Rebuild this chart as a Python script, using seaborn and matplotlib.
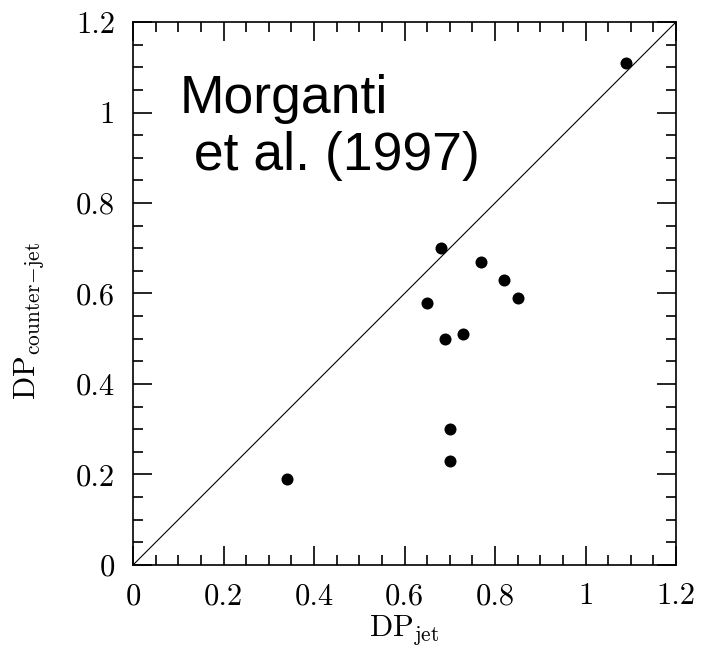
import numpy as np
import pandas as pd
import matplotlib
matplotlib.use("Agg")
import matplotlib.pyplot as plt
from matplotlib.ticker import MultipleLocator, FuncFormatter
import seaborn as sns

# DP значения (по картинке)
dp_jet = [1.09, 0.68, 0.77, 0.82, 0.85, 0.65, 0.73, 0.69, 0.70, 0.70, 0.34]
dp_counter = [1.11, 0.70, 0.67, 0.63, 0.59, 0.58, 0.51, 0.50, 0.30, 0.23, 0.19]

df = pd.DataFrame({'DP_jet': dp_jet, 'DP_counter': dp_counter})

sns.set_style("ticks")
plt.rcParams['font.family'] = ['cmr10', 'DejaVu Serif']
plt.rcParams['mathtext.fontset'] = 'cm'
plt.rcParams['axes.formatter.use_mathtext'] = True
plt.rcParams['text.color'] = 'black'
plt.rcParams['axes.labelcolor'] = 'black'

fig = plt.figure(figsize=(7.02, 6.53), dpi=100)
ax = fig.add_axes([0.1895, 0.1348, 0.7735, 0.8315])

# линия равенства
ax.plot([0, 1.2], [0, 1.2], color='black', lw=0.8)

sns.scatterplot(data=df, x='DP_jet', y='DP_counter', ax=ax, color='black',
                s=75, marker='o', edgecolor='black', linewidth=0)

ax.set_xlim(0, 1.2)
ax.set_ylim(0, 1.2)
for axis in [ax.xaxis, ax.yaxis]:
    axis.set_major_locator(MultipleLocator(0.2))
    axis.set_minor_locator(MultipleLocator(0.05))
    axis.set_major_formatter(FuncFormatter(lambda v, p: '%g' % round(v, 2)))

ax.tick_params(which='both', direction='in', top=True, right=True,
               labelsize=22, width=1.2, colors='black')
ax.tick_params(which='major', length=14, pad=13)
ax.tick_params(which='minor', length=7)
for sp in ax.spines.values():
    sp.set_linewidth(1.2)
    sp.set_color('black')

ax.set_xlabel(r'$\mathrm{DP}_{\mathrm{jet}}$', fontsize=22, labelpad=2)
ax.set_ylabel(r'$\mathrm{DP}_{\mathrm{counter\!-\!jet}}$', fontsize=22)
ax.yaxis.set_label_coords(-0.16, 0.45)

ax.text(0.085, 0.905, 'Morganti\n et al. (1997)', transform=ax.transAxes,
        fontsize=38.5, family='Liberation Sans', color='black',
        va='top', ha='left', linespacing=1.2)

plt.savefig("out.png", dpi=100)
